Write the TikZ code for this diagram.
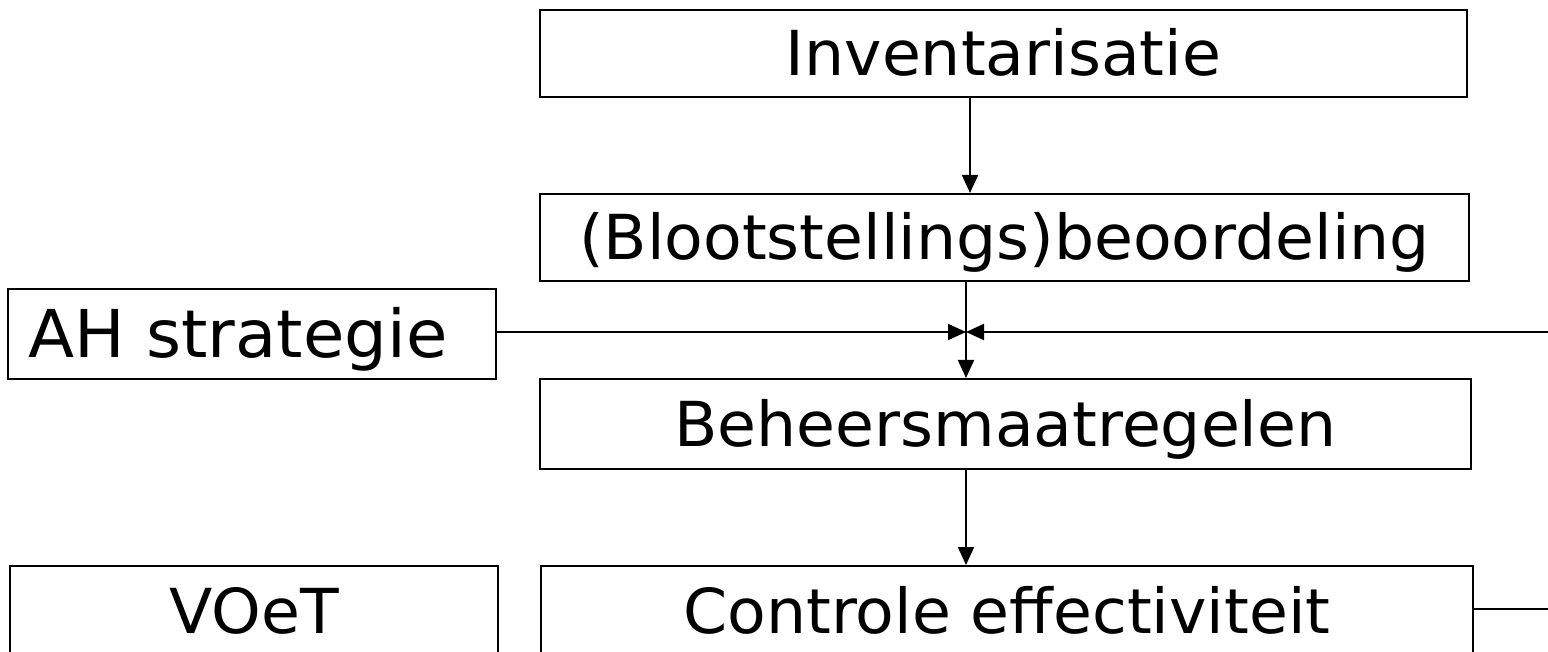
\documentclass[tikz,border=0pt]{standalone}
\usepackage{fontspec}
\setmainfont[FakeStretch=1.02]{DejaVu Sans}
\usetikzlibrary{arrows.meta}
\begin{document}
\begin{tikzpicture}[x=1pt,y=-1pt,
  box/.style={draw=black, line width=2pt, rectangle, inner sep=0pt,
    text height=45pt, text depth=0pt,
    font=\fontsize{62}{74}\selectfont},
  bigbox/.style={box, text height=48pt, font=\fontsize{66}{78}\selectfont},
  arr/.style={line width=2pt, -{Triangle[length=18pt,width=16pt]}},
  ln/.style={line width=2pt}]
\useasboundingbox (0,0) rectangle (1548,652);
\clip (0,0) rectangle (1548,652);
\node[box, minimum width=927pt, minimum height=87pt] (inv) at (1003.5,53.5) {Inventarisatie};
\node[box, minimum width=929pt, minimum height=87pt] (beo) at (1004.5,237.5) {(Blootstellings)beoordeling};
\node[bigbox, minimum width=488pt, minimum height=90pt] (ah) at (252,334) {AH strategie\hspace*{28pt}};
\node[box, minimum width=931pt, minimum height=90pt] (beh) at (1005.5,424) {Beheersmaatregelen};
\node[box, minimum width=488pt, minimum height=90pt] (voet) at (254,611) {VOeT};
\node[box, minimum width=932pt, minimum height=90pt] (ctrl) at (1007,611) {Controle effectiviteit};
\coordinate (ax1) at (970,0);
\coordinate (j) at (966,332);
\coordinate (redge) at (1548,332);
\coordinate (redge2) at (1548,609);
\draw[arr] (inv.south -| ax1) -- (beo.north -| ax1);
\draw[arr] (beo.south -| j) -- (beh.north -| j);
\draw[arr] (ah.east |- j) -- (j);
\draw[arr] (redge) -- (j);
\draw[arr] (beh.south -| j) -- (ctrl.north -| j);
\draw[ln] (ctrl.east |- redge2) -- (redge2);
\end{tikzpicture}
\end{document}
